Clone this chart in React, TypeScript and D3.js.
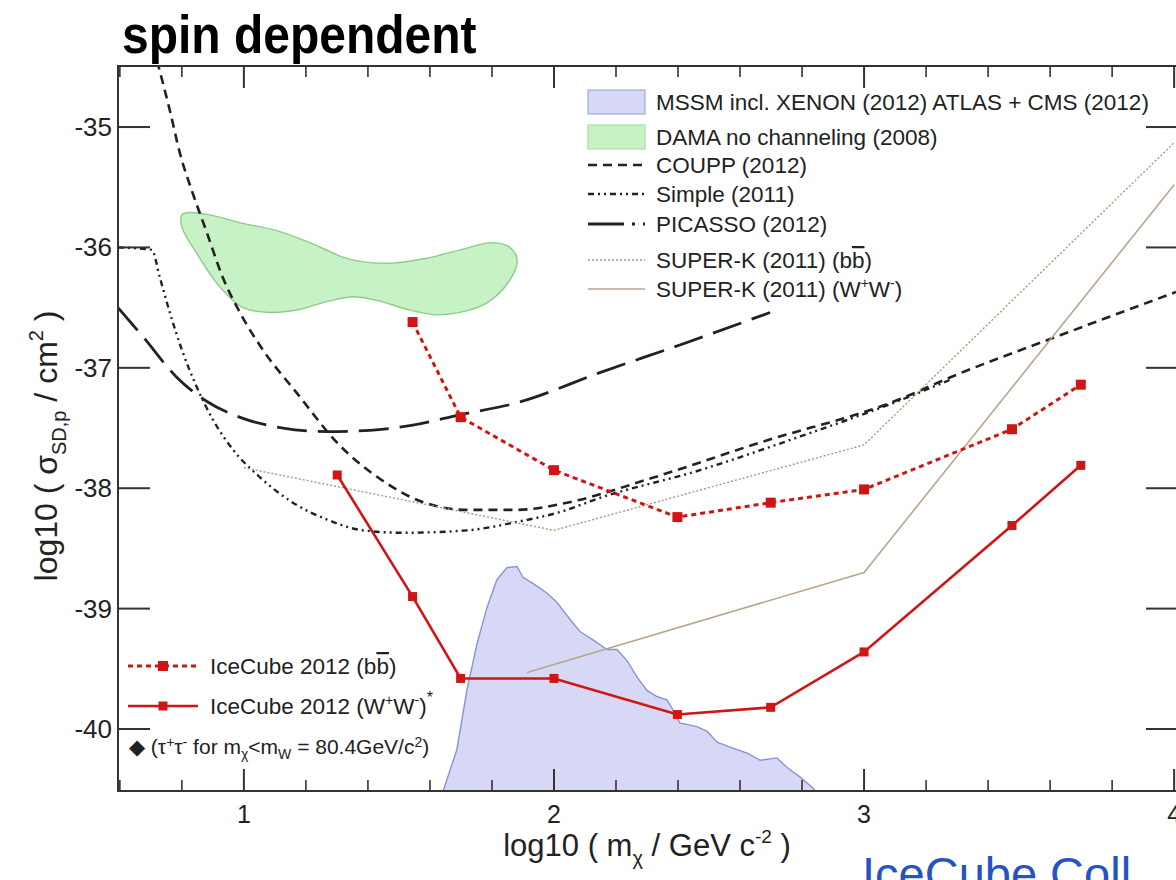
import * as d3 from "d3";

// log10(m / GeV) vs log10(sigma / cm^2)
const icecubeBbX = [1.544, 1.699, 2.0, 2.398, 2.699, 3.0, 3.477, 3.699];
const icecubeBbY = [-36.62, -37.41, -37.85, -38.24, -38.12, -38.01, -37.51, -37.14];
const icecubeWwX = [1.301, 1.544, 1.699, 2.0, 2.398, 2.699, 3.0, 3.477, 3.699];
const icecubeWwY = [-37.89, -38.9, -39.58, -39.58, -39.88, -39.82, -39.36, -38.31, -37.81];

const couppX = [0.72, 0.761, 0.794, 0.835, 0.881, 0.932, 0.987, 1.061, 1.171, 1.3, 1.461, 1.535, 1.719, 1.881, 2.042, 2.31, 2.665, 3.106, 3.277, 3.632, 4.006];
const couppY = [-34.45, -34.86, -35.22, -35.55, -35.88, -36.25, -36.54, -36.85, -37.21, -37.62, -37.96, -38.07, -38.18, -38.18, -38.12, -37.92, -37.62, -37.27, -37.08, -36.73, -36.37];

const simpleX = [0.594, 0.703, 0.729, 0.761, 0.8, 0.848, 0.9, 0.965, 1.052, 1.158, 1.268, 1.384, 1.513, 1.719, 1.881, 2.042, 2.126, 2.471, 2.794, 3.106, 3.277];
const simpleY = [-36.0, -36.02, -36.25, -36.54, -36.85, -37.16, -37.43, -37.68, -37.91, -38.12, -38.26, -38.35, -38.37, -38.35, -38.28, -38.18, -38.1, -37.85, -37.57, -37.28, -37.1];

const picassoX = [0.594, 0.674, 0.784, 0.881, 0.997, 1.126, 1.268, 1.406, 1.535, 1.697, 1.881, 2.148, 2.406, 2.697];
const picassoY = [-36.5, -36.74, -37.08, -37.28, -37.42, -37.5, -37.53, -37.52, -37.48, -37.39, -37.29, -37.04, -36.81, -36.54];

const superkBbX = [1.0, 2.0, 3.0, 4.0];
const superkBbY = [-37.83, -38.35, -37.64, -35.13];
const superkWwX = [1.913, 3.0, 4.0];
const superkWwY = [-39.53, -38.7, -35.48];

const mssmX = [1.63, 1.642, 1.687, 1.719, 1.752, 1.784, 1.816, 1.848, 1.881, 1.9, 1.932, 1.977, 2.01, 2.052, 2.084, 2.126, 2.171, 2.203, 2.235, 2.268, 2.3, 2.332, 2.365, 2.384, 2.406, 2.461, 2.494, 2.526, 2.568, 2.623, 2.665, 2.719, 2.752, 2.794, 2.835, 2.87];
const mssmY = [-40.7, -40.52, -40.17, -39.68, -39.29, -38.99, -38.76, -38.66, -38.65, -38.74, -38.79, -38.87, -38.95, -39.09, -39.19, -39.26, -39.34, -39.34, -39.43, -39.57, -39.68, -39.73, -39.76, -39.84, -39.95, -39.98, -40.02, -40.11, -40.15, -40.2, -40.26, -40.24, -40.32, -40.4, -40.49, -40.6];

const damaX = [0.8, 0.826, 0.89, 0.997, 1.106, 1.213, 1.319, 1.384, 1.481, 1.59, 1.697, 1.803, 1.858, 1.881, 1.858, 1.784, 1.697, 1.623, 1.535, 1.429, 1.352, 1.268, 1.171, 1.084, 0.997, 0.923, 0.848, 0.8];
const damaY = [-35.73, -35.71, -35.73, -35.8, -35.86, -35.96, -36.08, -36.12, -36.13, -36.09, -36.02, -35.96, -36.0, -36.1, -36.27, -36.46, -36.54, -36.56, -36.52, -36.44, -36.41, -36.45, -36.52, -36.54, -36.5, -36.33, -36.05, -35.83];

const xTicks = [1, 2, 3, 4];
const yTicks = [-35, -36, -37, -38, -39, -40];

const W = 1176;
const H = 880;
const left = 118;
const right = 1176;
const top = 66;
const bottom = 791;

const FONT = "'Liberation Sans', Arial, Helvetica, sans-serif";
const RED = "#d01515";
const TAN = "#b9a58c";

const x = d3.scaleLinear().domain([0.594, 4.006]).range([left, right]);
const y = d3.scaleLinear().domain([-40.515, -34.493]).range([bottom, top]);

const pts = (xs: number[], ys: number[]) => xs.map((v, i) => [v, ys[i]] as [number, number]);

const smooth = d3
  .line<[number, number]>()
  .x((d) => x(d[0]))
  .y((d) => y(d[1]))
  .curve(d3.curveMonotoneX);
const straight = d3
  .line<[number, number]>()
  .x((d) => x(d[0]))
  .y((d) => y(d[1]));
const closed = d3
  .line<[number, number]>()
  .x((d) => x(d[0]))
  .y((d) => y(d[1]))
  .curve(d3.curveCatmullRomClosed);

const minorX = d3.range(0.6, 4.01, 0.2).filter((v) => Math.abs(v - Math.round(v)) > 0.01);

const Square = ({ cx, cy, s = 10 }: { cx: number; cy: number; s?: number }) => (
  <rect x={cx - s / 2} y={cy - s / 2} width={s} height={s} fill={RED} />
);

const App = () => {
  const mssmPath = straight(pts(mssmX, mssmY)) + `L${x(2.9)},${y(-40.8)}L${x(1.6)},${y(-40.8)}Z`;

  const legendTop = [
    { label: "MSSM incl. XENON (2012) ATLAS + CMS (2012)", y: 102, kind: "mssm" },
    { label: "DAMA no channeling (2008)", y: 137, kind: "dama" },
    { label: "COUPP (2012)", y: 165, kind: "coupp" },
    { label: "Simple (2011)", y: 194, kind: "simple" },
    { label: "PICASSO (2012)", y: 224, kind: "picasso" },
    { label: "SUPER-K (2011) (bb)", y: 260, kind: "skbb" },
    { label: "SUPER-K (2011) (WW)", y: 289, kind: "skww" },
  ];

  const styleFor: Record<string, { stroke: string; dash?: string; width: number }> = {
    coupp: { stroke: "#222", dash: "9,6", width: 2.6 },
    simple: { stroke: "#222", dash: "6,4,2,4,2,4", width: 2.4 },
    picasso: { stroke: "#222", dash: "36,8,3,8", width: 2.8 },
    skbb: { stroke: "#b09578", dash: "2,2", width: 1.4 },
    skww: { stroke: TAN, width: 1.6 },
  };

  return (
    <svg
      width={W}
      height={H}
      style={{ position: "absolute", left: 0, top: 0, background: "#fff" }}
      fontFamily={FONT}
    >
      <defs>
        <clipPath id="plot">
          <rect x={left} y={top} width={right - left} height={bottom - top} />
        </clipPath>
      </defs>

      <text x={122} y={53} fontSize={48} fontWeight="bold" fill="#000" transform="translate(0,-5) scale(1,1.1)">
        spin dependent
      </text>

      <g clipPath="url(#plot)">
        <path d={mssmPath} fill="#d6d8f6" stroke="#8d92d6" strokeWidth={1.4} />
        <path d={closed(pts(damaX, damaY)) ?? ""} fill="#c6f2c6" stroke="#8ccc8c" strokeWidth={1.4} />

        <path d={smooth(pts(couppX, couppY)) ?? ""} fill="none" stroke="#222" strokeWidth={2.6} strokeDasharray="9,6" />
        <path d={smooth(pts(simpleX, simpleY)) ?? ""} fill="none" stroke="#222" strokeWidth={2.4} strokeDasharray="6,4,2,4,2,4" />
        <path d={smooth(pts(picassoX, picassoY)) ?? ""} fill="none" stroke="#222" strokeWidth={2.8} strokeDasharray="30,11" />
        <path d={straight(pts(superkBbX, superkBbY)) ?? ""} fill="none" stroke="#b09578" strokeWidth={1.4} strokeDasharray="2,2" />
        <path d={straight(pts(superkWwX, superkWwY)) ?? ""} fill="none" stroke={TAN} strokeWidth={1.6} />

        <path d={straight(pts(icecubeBbX, icecubeBbY)) ?? ""} fill="none" stroke={RED} strokeWidth={3} strokeDasharray="5,4" />
        {icecubeBbX.map((v, i) => (
          <Square key={"b" + i} cx={x(v)} cy={y(icecubeBbY[i])} />
        ))}
        <path d={straight(pts(icecubeWwX, icecubeWwY)) ?? ""} fill="none" stroke={RED} strokeWidth={2.6} />
        {icecubeWwX.map((v, i) => (
          <Square key={"w" + i} cx={x(v)} cy={y(icecubeWwY[i])} s={9} />
        ))}
      </g>

      {/* frame */}
      <rect x={left} y={top} width={right - left + 2} height={bottom - top} fill="none" stroke="#333" strokeWidth={2} />
      {xTicks.map((t) => (
        <g key={"xt" + t} stroke="#333" strokeWidth={2}>
          <line x1={x(t)} x2={x(t)} y1={bottom} y2={bottom - 22} />
          <line x1={x(t)} x2={x(t)} y1={top} y2={top + 22} />
        </g>
      ))}
      {minorX.map((t, i) => (
        <g key={"mx" + i} stroke="#333" strokeWidth={1.6}>
          <line x1={x(t)} x2={x(t)} y1={bottom} y2={bottom - 11} />
          <line x1={x(t)} x2={x(t)} y1={top} y2={top + 11} />
        </g>
      ))}
      {yTicks.map((t) => (
        <g key={"yt" + t} stroke="#333" strokeWidth={2}>
          <line x1={left} x2={left + 32} y1={y(t)} y2={y(t)} />
          <line x1={right} x2={right - 30} y1={y(t)} y2={y(t)} />
        </g>
      ))}
      {xTicks.map((t) => (
        <text key={"xl" + t} x={x(t)} y={823} fontSize={25} textAnchor="middle" fill="#222">
          {t}
        </text>
      ))}
      {yTicks.map((t) => (
        <text key={"yl" + t} x={112} y={y(t) + 9} fontSize={26} textAnchor="end" fill="#222">
          {t}
        </text>
      ))}

      {/* axis titles */}
      <text x={647} y={856} fontSize={31} textAnchor="middle" fill="#222">
        log10 ( m<tspan dy={9} fontSize={20}>χ</tspan>
        <tspan dy={-9}> / GeV c</tspan>
        <tspan dy={-13} fontSize={19}>-2</tspan>
        <tspan dy={13}> )</tspan>
      </text>
      <text transform="translate(57,446) rotate(-90)" fontSize={32} textAnchor="middle" fill="#222">
        log10 ( σ<tspan dy={9} fontSize={20}>SD,p</tspan>
        <tspan dy={-9}> / cm</tspan>
        <tspan dy={-14} fontSize={20}>2</tspan>
        <tspan dy={14}> )</tspan>
      </text>

      {/* top-right legend */}
      {legendTop.map((r) => {
        const s = styleFor[r.kind];
        return (
          <g key={r.kind}>
            {r.kind === "mssm" && (
              <rect x={588} y={r.y - 12} width={57} height={24} fill="#d6d8f6" stroke="#a3a7e0" strokeWidth={1.2} />
            )}
            {r.kind === "dama" && (
              <rect x={588} y={r.y - 12} width={57} height={24} fill="#c6f2c6" stroke="#a8dea8" strokeWidth={1.2} />
            )}
            {s && (
              <line x1={588} x2={645} y1={r.y} y2={r.y} stroke={s.stroke} strokeWidth={s.width} strokeDasharray={s.dash} />
            )}
            <text x={656} y={r.y + 8} fontSize={22.5} fill="#222">
              {r.kind === "skbb" ? (
                <>
                  SUPER-K (2011) (b<tspan style={{ textDecoration: "overline" }}>b</tspan>)
                </>
              ) : r.kind === "skww" ? (
                <>
                  SUPER-K (2011) (W<tspan dy={-9} fontSize={14}>+</tspan>
                  <tspan dy={9}>W</tspan>
                  <tspan dy={-9} fontSize={14}>-</tspan>
                  <tspan dy={9}>)</tspan>
                </>
              ) : (
                r.label
              )}
            </text>
          </g>
        );
      })}

      {/* bottom-left legend */}
      <line x1={128} x2={198} y1={666} y2={666} stroke={RED} strokeWidth={3} strokeDasharray="5,4" />
      <Square cx={163} cy={666} />
      <text x={210} y={674} fontSize={22.5} fill="#222">
        IceCube 2012 (b<tspan style={{ textDecoration: "overline" }}>b</tspan>)
      </text>
      <line x1={128} x2={198} y1={706} y2={706} stroke={RED} strokeWidth={2.6} />
      <Square cx={163} cy={706} s={9} />
      <text x={210} y={714} fontSize={22.5} fill="#222">
        IceCube 2012 (W<tspan dy={-9} fontSize={14}>+</tspan>
        <tspan dy={9}>W</tspan>
        <tspan dy={-9} fontSize={14}>-</tspan>
        <tspan dy={9}>)</tspan>
        <tspan dy={-11} fontSize={16}>*</tspan>
      </text>
      <text x={129} y={754} fontSize={21} fill="#222">
        ◆ (τ<tspan dy={-7} fontSize={14}>+</tspan>
        <tspan dy={7}>τ</tspan>
        <tspan dy={-7} fontSize={14}>-</tspan>
        <tspan dy={7}> for m</tspan>
        <tspan dy={5} fontSize={14}>χ</tspan>
        <tspan dy={-5}>&lt;m</tspan>
        <tspan dy={5} fontSize={14}>W</tspan>
        <tspan dy={-5}> = 80.4GeV/c</tspan>
        <tspan dy={-7} fontSize={14}>2</tspan>
        <tspan dy={7}>)</tspan>
      </text>

      <text x={862} y={890} fontSize={47} fill="#2453c2">
        IceCube Coll
      </text>
    </svg>
  );
};

export default App;
